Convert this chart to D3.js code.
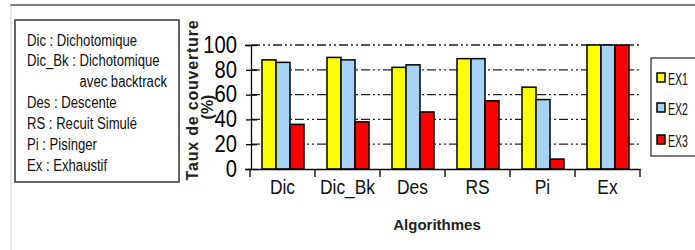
<!DOCTYPE html>
<html>
<head>
<meta charset="utf-8">
<script src="https://cdn.jsdelivr.net/npm/d3@7"></script>
<style>
  body { margin: 0; background: #fff; }
  svg { display: block; }
</style>
</head>
<body>
<div id="chart"></div>
<script>
// data
const categories = ['Dic', 'Dic_Bk', 'Des', 'RS', 'Pi', 'Ex'];
const seriesNames = ['EX1', 'EX2', 'EX3'];
const ex1 = [88, 90, 82, 89, 66, 100];
const ex2 = [86, 88, 84, 89, 56, 100];
const ex3 = [36, 38, 46, 55, 8, 100];
const yTicks = [0, 20, 40, 60, 80, 100];
const notes = [
  'Dic : Dichotomique',
  'Dic_Bk : Dichotomique',
  'avec backtrack',
  'Des : Descente',
  'RS : Recuit Simulé',
  'Pi : Pisinger',
  'Ex : Exhaustif'
];
const colors = ['#ffff00', '#a6d3f5', '#ff0000'];

const W = 695, H = 250;
const svg = d3.select('#chart').append('svg')
  .attr('width', W).attr('height', H)
  .attr('font-family', '"Liberation Sans", Arial, sans-serif');

// outer frame
svg.append('line').attr('x1', 10).attr('x2', W).attr('y1', 5).attr('y2', 5)
  .attr('stroke', '#555').attr('stroke-width', 1.5);
svg.append('line').attr('x1', 11).attr('x2', 11).attr('y1', 5).attr('y2', H)
  .attr('stroke', '#ccc').attr('stroke-width', 1);

// note box on the left
svg.append('rect').attr('x', 15).attr('y', 20).attr('width', 164).attr('height', 162)
  .attr('fill', '#fff').attr('stroke', '#333').attr('stroke-width', 1.5);
const noteY = [46, 66, 87, 108, 129, 150, 171];
notes.forEach((t, i) => {
  const right = i === 2;
  svg.append('text')
    .attr('transform', `translate(${right ? 167 : 27},${noteY[i]}) scale(0.82,1)`)
    .attr('text-anchor', right ? 'end' : 'start')
    .attr('font-size', 16).attr('fill', '#111')
    .text(t);
});

// scales
const x0 = d3.scaleBand().domain(categories).range([250, 640]);
const x1 = d3.scaleBand().domain(seriesNames).range([12, 54]);
const y = d3.scaleLinear().domain([0, 100]).range([169, 45]);

// gridlines
svg.append('g').selectAll('line').data(yTicks.filter(d => d > 0)).join('line')
  .attr('x1', 251).attr('x2', 640)
  .attr('y1', d => y(d)).attr('y2', d => y(d))
  .attr('stroke', '#222').attr('stroke-width', 1.3)
  .attr('stroke-dasharray', '9,3,2,3,2,3');

// bars
const series = [ex1, ex2, ex3];
const g = svg.append('g');
categories.forEach((c, i) => {
  seriesNames.forEach((s, j) => {
    g.append('rect')
      .attr('x', x0(c) + x1(s))
      .attr('y', y(series[j][i]))
      .attr('width', x1.bandwidth())
      .attr('height', y(0) - y(series[j][i]))
      .attr('fill', colors[j])
      .attr('stroke', '#000').attr('stroke-width', 1.5);
  });
});

// y axis
const yAxis = svg.append('g').attr('transform', 'translate(251,0)')
  .call(d3.axisLeft(y).tickValues(yTicks).tickSize(6).tickPadding(10));
yAxis.select('.domain').attr('stroke', '#000').attr('stroke-width', 1.3);
yAxis.selectAll('.tick line').attr('x2', 6).attr('x1', -5).attr('stroke-width', 1.3);
yAxis.selectAll('.tick text').attr('font-size', 23).attr('fill', '#000')
  .attr('font-family', '"Liberation Sans", Arial, sans-serif')
  .attr('transform', 'scale(0.88,1)').attr('x', -14 / 0.88);

// x axis
const xAxis = svg.append('g').attr('transform', 'translate(0,169)')
  .call(d3.axisBottom(x0).tickSize(0).tickPadding(0));
xAxis.select('.domain').attr('stroke', '#000').attr('stroke-width', 1.3);
xAxis.selectAll('.tick text').remove();
svg.append('g').selectAll('line')
  .data(categories.map(c => x0(c)).concat([x0.range()[1]]))
  .join('line')
  .attr('x1', d => d).attr('x2', d => d).attr('y1', 169).attr('y2', 177)
  .attr('stroke', '#000').attr('stroke-width', 1.3);
svg.append('g').selectAll('text').data(categories).join('text')
  .attr('transform', d => `translate(${x0(d) + x0.bandwidth() / 2},194) scale(0.87,1)`)
  .attr('text-anchor', 'middle').attr('font-size', 20).attr('fill', '#111')
  .text(d => d);

// axis titles
svg.append('text').attr('x', 437).attr('y', 230).attr('text-anchor', 'middle')
  .attr('font-size', 15).attr('font-weight', 'bold').attr('fill', '#222')
  .text('Algorithmes');
svg.append('text').attr('transform', 'translate(198,100) rotate(-90)')
  .attr('text-anchor', 'middle').attr('font-size', 16).attr('font-weight', 'bold')
  .attr('letter-spacing', 0.8).attr('fill', '#222')
  .text('Taux de couverture');
svg.append('text').attr('transform', 'translate(213,107) rotate(-90)')
  .attr('text-anchor', 'middle').attr('font-size', 16).attr('font-weight', 'bold')
  .attr('fill', '#222')
  .text('(%)');

// legend on the right
svg.append('rect').attr('x', 651).attr('y', 58).attr('width', 60).attr('height', 98)
  .attr('fill', '#fff').attr('stroke', '#333').attr('stroke-width', 1.3);
const legY = [85, 115, 147];
seriesNames.forEach((s, j) => {
  svg.append('rect').attr('x', 657).attr('y', legY[j] - 12).attr('width', 8).attr('height', 9)
    .attr('fill', colors[j]).attr('stroke', '#000').attr('stroke-width', 1.5);
  svg.append('text')
    .attr('transform', `translate(668,${legY[j]}) scale(0.62,1)`)
    .attr('font-size', 17).attr('fill', '#111')
    .text(s);
});
</script>
</body>
</html>
